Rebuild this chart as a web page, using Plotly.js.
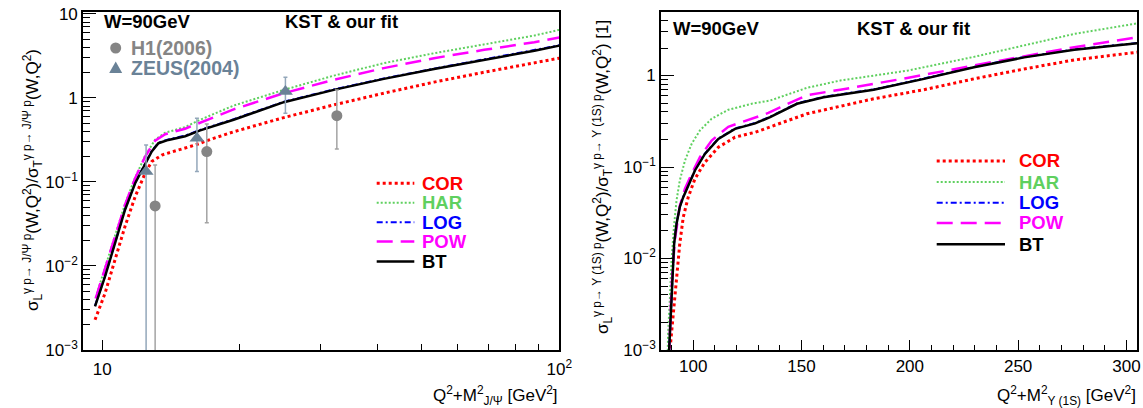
<!DOCTYPE html>
<html><head><meta charset="utf-8">
<script src="https://cdn.plot.ly/plotly-3.0.1.min.js"></script>
<style>html,body{margin:0;padding:0;background:#fff}#chart{width:1143px;height:408px}</style>
</head><body><div id="chart"></div>
<script>
// ---------- J/psi panel (left) ----------
const jpsi_BT_x  = [9.64, 10.14, 10.66, 11.21, 11.80, 12.41, 12.83, 13.27, 13.95, 15.18, 16.38, 19.38, 24.95, 32.1, 41.3, 53.2, 68.5, 88.2, 100];
const jpsi_BT_y  = [0.0033, 0.0075, 0.0186, 0.0464, 0.0966, 0.167, 0.230, 0.289, 0.316, 0.35, 0.41, 0.55, 0.889, 1.245, 1.684, 2.21, 2.83, 3.63, 4.19];
const jpsi_LOG_y = [0.00335, 0.0076, 0.0189, 0.0471, 0.098, 0.170, 0.234, 0.293, 0.321, 0.355, 0.416, 0.558, 0.90, 1.26, 1.70, 2.23, 2.86, 3.66, 4.22];
const jpsi_COR_x = [9.64, 10.14, 10.66, 11.21, 11.80, 12.41, 12.83, 13.50, 14.68, 15.97, 17.52, 19.38, 24.95, 32.1, 41.3, 53.2, 68.5, 88.2, 100];
const jpsi_COR_y = [0.00229, 0.00473, 0.0118, 0.0294, 0.0668, 0.127, 0.175, 0.209, 0.240, 0.275, 0.33, 0.395, 0.583, 0.825, 1.137, 1.54, 2.02, 2.59, 2.97];
const jpsi_POW_x = [9.67, 10.14, 10.66, 11.21, 11.80, 12.41, 13.05, 13.73, 15.18, 16.38, 19.38, 24.95, 32.1, 41.3, 53.2, 68.5, 88.2, 100];
const jpsi_POW_y = [0.0041, 0.0094, 0.0223, 0.0532, 0.1106, 0.200, 0.31, 0.37, 0.43, 0.51, 0.73, 1.137, 1.64, 2.26, 2.97, 3.73, 4.60, 5.22];
const jpsi_HAR_y = [0.0042, 0.0096, 0.0228, 0.0545, 0.113, 0.205, 0.318, 0.385, 0.45, 0.55, 0.81, 1.245, 1.84, 2.59, 3.40, 4.36, 5.52, 6.45];

const h1_x  = [13.05, 16.93, 32.6];
const h1_y  = [0.0518, 0.23, 0.615];
const h1_hi = [0.159, 0.49, 1.245];
const h1_lo = [0.000001, 0.0327, 0.247];
const zeus_x  = [12.47, 16.11, 25.16];
const zeus_y  = [0.133, 0.331, 1.19];
const zeus_hi = [0.275, 0.573, 1.76];
const zeus_lo = [0.000001, 0.133, 0.658];

// ---------- Upsilon(1S) panel (right) ----------
const ups_BT_x  = [88.7, 89.2, 89.7, 90.3, 91.2, 92.3, 93.8, 95.4, 97.7, 100.8, 105.4, 111.6, 119.3, 128.6, 135.5, 140.1, 147.9, 160.2, 183.3, 206.5, 229.6, 252.8, 275.9, 305];
const ups_BT_y  = [0.0008, 0.0015, 0.0029, 0.0068, 0.0145, 0.0239, 0.0364, 0.0468, 0.0628, 0.0917, 0.139, 0.203, 0.261, 0.30, 0.351, 0.398, 0.491, 0.580, 0.698, 0.920, 1.23, 1.58, 1.91, 2.25];
const ups_LOG_y = [0.0008, 0.00152, 0.00293, 0.0069, 0.0147, 0.0242, 0.0368, 0.0473, 0.0634, 0.0926, 0.1405, 0.205, 0.264, 0.303, 0.355, 0.402, 0.496, 0.586, 0.705, 0.929, 1.243, 1.596, 1.93, 2.27];
const ups_COR_x = [89.1, 90.7, 92.3, 93.8, 95.4, 97.7, 100.8, 105.4, 111.6, 119.3, 128.6, 137, 152.5, 183.3, 206.5, 229.6, 252.8, 275.9, 305];
const ups_COR_y = [0.0009, 0.00249, 0.00625, 0.0145, 0.0282, 0.0468, 0.0743, 0.1127, 0.1644, 0.212, 0.24, 0.284, 0.382, 0.557, 0.70, 0.92, 1.18, 1.48, 1.80];
const ups_HAR_x = [88.2, 88.4, 89.2, 90.0, 91.1, 92.3, 93.8, 96.2, 99.3, 103.1, 108.5, 116.2, 127, 135.5, 152.5, 167.9, 198.8, 229.6, 275.9, 305];
const ups_HAR_y = [0.0008, 0.0015, 0.00348, 0.0095, 0.022, 0.043, 0.0711, 0.1177, 0.1795, 0.251, 0.337, 0.423, 0.492, 0.533, 0.734, 0.882, 1.13, 1.6, 2.85, 3.72];
const ups_POW_x = [88.8, 89.3, 90.0, 91.5, 93.8, 96.2, 99.3, 103.1, 108.5, 116.2, 125.5, 134.7, 140.1, 152.5, 167.9, 198.8, 229.6, 275.9, 305];
const ups_POW_y = [0.0008, 0.0015, 0.00486, 0.0157, 0.0375, 0.0578, 0.0844, 0.128, 0.195, 0.275, 0.33, 0.39, 0.45, 0.61, 0.70, 0.94, 1.29, 2.04, 2.62];

const model_names = ['COR', 'HAR', 'LOG', 'POW', 'BT'];
const left_xticks = [10, 100];
const left_xticktext = ['10', '10<sup>2</sup>'];
const left_yticks = [0.001, 0.01, 0.1, 1, 10];
const left_yticktext = ['10<sup>\u22123</sup>', '10<sup>\u22122</sup>', '10<sup>\u22121</sup>', '1', '10'];
const right_xticks = [100, 150, 200, 250, 300];
const right_yticks = [0.001, 0.01, 0.1, 1];
const right_yticktext = ['10<sup>\u22123</sup>', '10<sup>\u22122</sup>', '10<sup>\u22121</sup>', '1'];

// ---------- styles ----------
const W = 1143, H = 408;
const FONT = 'Liberation Sans, Arial, Helvetica, sans-serif';
const sty = {
  COR: {color: '#ff0000', width: 3,   dash: '3px,3px'},
  HAR: {color: '#5fd05f', width: 2,   dash: '2px,2px'},
  LOG: {color: '#0000ff', width: 2,   dash: '6px,3px,2px,3px'},
  POW: {color: '#ff00ff', width: 2.5, dash: '16px,8px'},
  BT:  {color: '#000000', width: 2.5, dash: 'solid'}
};
const txtCol = {COR: '#ff0000', HAR: '#5fd05f', LOG: '#0000ff', POW: '#ff00ff', BT: '#000000'};
const H1C = '#858585', ZEC = '#6a8297';
const px = v => v / W, py = v => 1 - v / H;

function line(name, x, y, xa, ya) {
  return {type: 'scatter', mode: 'lines', name: name, x: x, y: y, xaxis: xa, yaxis: ya,
          line: sty[name], showlegend: false, hoverinfo: 'x+y+name'};
}
function errBars(ys, hi, lo) {
  return {plus: ys.map((v, i) => hi[i] - v), minus: ys.map((v, i) => v - lo[i])};
}
const h1e = errBars(h1_y, h1_hi, h1_lo);
const zee = errBars(zeus_y, zeus_hi, zeus_lo);

const traces = [
  line('COR', jpsi_COR_x, jpsi_COR_y, 'x', 'y'),
  line('HAR', jpsi_POW_x, jpsi_HAR_y, 'x', 'y'),
  line('LOG', jpsi_BT_x, jpsi_LOG_y, 'x', 'y'),
  line('POW', jpsi_POW_x, jpsi_POW_y, 'x', 'y'),
  line('BT',  jpsi_BT_x, jpsi_BT_y, 'x', 'y'),
  {type: 'scatter', mode: 'markers', name: 'H1(2006)', x: h1_x, y: h1_y, xaxis: 'x', yaxis: 'y',
   marker: {symbol: 'circle', size: 11, color: H1C},
   error_y: {type: 'data', symmetric: false, array: h1e.plus, arrayminus: h1e.minus,
             color: '#a3a3a3', thickness: 1.5, width: 2}, showlegend: false},
  {type: 'scatter', mode: 'markers', name: 'ZEUS(2004)', x: zeus_x, y: zeus_y, xaxis: 'x', yaxis: 'y',
   marker: {symbol: 'triangle-up', size: 13, color: ZEC},
   error_y: {type: 'data', symmetric: false, array: zee.plus, arrayminus: zee.minus,
             color: '#93a7ba', thickness: 1.5, width: 2}, showlegend: false},
  line('COR', ups_COR_x, ups_COR_y, 'x2', 'y2'),
  line('HAR', ups_HAR_x, ups_HAR_y, 'x2', 'y2'),
  line('LOG', ups_BT_x, ups_LOG_y, 'x2', 'y2'),
  line('POW', ups_POW_x, ups_POW_y, 'x2', 'y2'),
  line('BT',  ups_BT_x, ups_BT_y, 'x2', 'y2')
];

function logMinor(d0, d1) {
  const out = [];
  for (let d = d0; d <= d1; d++) for (let k = 2; k <= 9; k++) out.push(k * Math.pow(10, d));
  return out;
}

const tickFont = {family: FONT, size: 17, color: '#000'};
const baseAxis = {showline: true, mirror: true, linecolor: '#000', linewidth: 1.5,
  showgrid: false, zeroline: false, ticks: 'inside', tickcolor: '#000', tickwidth: 1,
  tickfont: tickFont, tickmode: 'array'};

const layout = {
  width: W, height: H, margin: {l: 0, r: 0, t: 0, b: 0},
  paper_bgcolor: '#fff', plot_bgcolor: '#fff', showlegend: false,
  font: {family: FONT},
  xaxis: Object.assign({}, baseAxis, {
    domain: [px(82.7), px(559.3)], anchor: 'y', type: 'log',
    range: [Math.log10(9.06), 2], tickvals: left_xticks, ticktext: left_xticktext,
    ticklen: 10, ticklabelstandoff: 3,
    minor: {tickmode: 'array', tickvals: [20, 30, 40, 50, 60, 70, 80, 90], ticks: 'inside', ticklen: 6, tickcolor: '#000', tickwidth: 1}
  }),
  yaxis: Object.assign({}, baseAxis, {
    domain: [py(350), py(11.5)], anchor: 'x', type: 'log',
    range: [-3, 1.028], tickvals: left_yticks, ticktext: left_yticktext,
    ticklen: 13,
    minor: {tickmode: 'array', tickvals: logMinor(-3, 0), ticks: 'inside', ticklen: 7, tickcolor: '#000', tickwidth: 1}
  }),
  xaxis2: Object.assign({}, baseAxis, {
    domain: [px(660.7), px(1137.3)], anchor: 'y2', type: 'linear',
    range: [85, 305], tickvals: right_xticks, ticktext: right_xticks.map(String),
    ticklen: 10, ticklabelstandoff: 0,
    minor: {tickmode: 'linear', tick0: 0, dtick: 10, ticks: 'inside', ticklen: 5, tickcolor: '#000', tickwidth: 1}
  }),
  yaxis2: Object.assign({}, baseAxis, {
    domain: [py(350), py(11.5)], anchor: 'x2', type: 'log',
    range: [-3, 0.70], tickvals: right_yticks, ticktext: right_yticktext,
    ticklen: 13,
    minor: {tickmode: 'array', tickvals: logMinor(-3, 0), ticks: 'inside', ticklen: 7, tickcolor: '#000', tickwidth: 1}
  }),
  annotations: [],
  shapes: []
};

function ann(text, x, y, opt) {
  layout.annotations.push(Object.assign({
    text: text, xref: 'paper', yref: 'paper', x: px(x), y: py(y),
    xanchor: 'left', yanchor: 'middle', showarrow: false,
    font: {family: FONT, size: 18.5, color: '#000', weight: 'bold'}
  }, opt || {}));
}

// panel headers
ann('<b>W=90GeV</b>', 102, 21);
ann('<b>KST &amp; our fit</b>', 341, 21, {xanchor: 'center'});
ann('<b>W=90GeV</b>', 670.5, 28.5);
ann('<b>KST &amp; our fit</b>', 913, 28.5, {xanchor: 'center'});

// data legend (left)
ann('<b>H1(2006)</b>', 129, 48, {font: {family: FONT, size: 19.5, color: H1C, weight: 'bold'}});
ann('<b>ZEUS(2004)</b>', 129, 68, {font: {family: FONT, size: 19.5, color: ZEC, weight: 'bold'}});
layout.shapes.push({type: 'circle', xref: 'paper', yref: 'paper',
  x0: px(115.7 - 5.5), x1: px(115.7 + 5.5), y0: py(48 + 5.5), y1: py(48 - 5.5),
  fillcolor: H1C, line: {width: 0}});
layout.shapes.push({type: 'path', xref: 'paper', yref: 'paper',
  path: `M ${px(115.7 - 6.5)} ${py(73)} L ${px(115.7 + 6.5)} ${py(73)} L ${px(115.7)} ${py(61.5)} Z`,
  fillcolor: ZEC, line: {width: 0}});

// model legends
const legL = {x0: 376.7, x1: 414.3, tx: 420, ys: [183.3, 202.7, 222.3, 241.5, 261.5]};
const legR = {x0: 936.7, x1: 1005, tx: 1016.5, ys: [161, 182, 202.7, 223, 244.3]};
[legL, legR].forEach(L => {
  model_names.forEach((n, i) => {
    layout.shapes.push({type: 'line', xref: 'paper', yref: 'paper',
      x0: px(L.x0), x1: px(L.x1), y0: py(L.ys[i]), y1: py(L.ys[i]),
      line: {color: sty[n].color, width: sty[n].width, dash: sty[n].dash}});
    ann('<b>' + n + '</b>', L.tx, L.ys[i], {font: {family: FONT, size: 18.5, color: txtCol[n], weight: 'bold'}});
  });
});

// axis titles
const tf = {family: FONT, size: 17, color: '#000'};
ann('Q<sup>2</sup>+M<sup>2</sup><sub>J/\u03A8</sub> [GeV<sup>2</sup>]', 560, 395, {xanchor: 'right', font: tf});
ann('Q<sup>2</sup>+M<sup>2</sup><sub>\u03A5 (1S)</sub> [GeV<sup>2</sup>]', 1138, 395, {xanchor: 'right', font: tf});
ann('\u03C3<sub>L</sub><sup>\u03B3 p\u2192 J/\u03A8 p</sup>(W,Q<sup>2</sup>)/\u03C3<sub>T</sub><sup>\u03B3 p\u2192 J/\u03A8 p</sup>(W,Q<sup>2</sup>)',
    32, 180, {xanchor: 'center', textangle: -90, font: tf});
ann('\u03C3<sub>L</sub><sup>\u03B3 p\u2192 \u03A5 (1S) p</sup>(W,Q<sup>2</sup>)/\u03C3<sub>T</sub><sup>\u03B3 p\u2192 \u03A5 (1S) p</sup>(W,Q<sup>2</sup>) [1]',
    602, 177, {xanchor: 'center', textangle: -90, font: tf});

Plotly.newPlot('chart', traces, layout, {staticPlot: true, displayModeBar: false});
</script></body></html>
